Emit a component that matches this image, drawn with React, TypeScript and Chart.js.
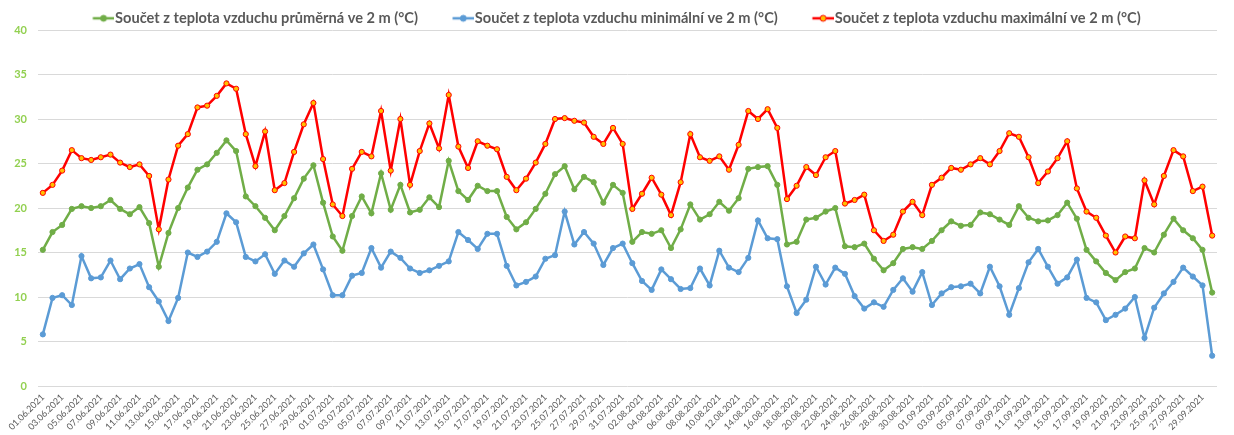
import React, { useEffect, useRef } from "react";
import { Chart, registerables } from "chart.js";

Chart.register(...registerables);

const dates = [
  "01.06.2021","02.06.2021","03.06.2021","04.06.2021","05.06.2021","06.06.2021","07.06.2021","08.06.2021","09.06.2021","10.06.2021",
  "11.06.2021","12.06.2021","13.06.2021","14.06.2021","15.06.2021","16.06.2021","17.06.2021","18.06.2021","19.06.2021","20.06.2021",
  "21.06.2021","22.06.2021","23.06.2021","24.06.2021","25.06.2021","26.06.2021","27.06.2021","28.06.2021","29.06.2021","30.06.2021",
  "01.07.2021","02.07.2021","03.07.2021","04.07.2021","05.07.2021","06.07.2021","07.07.2021","08.07.2021","09.07.2021","10.07.2021",
  "11.07.2021","12.07.2021","13.07.2021","14.07.2021","15.07.2021","16.07.2021","17.07.2021","18.07.2021","19.07.2021","20.07.2021",
  "21.07.2021","22.07.2021","23.07.2021","24.07.2021","25.07.2021","26.07.2021","27.07.2021","28.07.2021","29.07.2021","30.07.2021",
  "31.07.2021","01.08.2021","02.08.2021","03.08.2021","04.08.2021","05.08.2021","06.08.2021","07.08.2021","08.08.2021","09.08.2021",
  "10.08.2021","11.08.2021","12.08.2021","13.08.2021","14.08.2021","15.08.2021","16.08.2021","17.08.2021","18.08.2021","19.08.2021",
  "20.08.2021","21.08.2021","22.08.2021","23.08.2021","24.08.2021","25.08.2021","26.08.2021","27.08.2021","28.08.2021","29.08.2021",
  "30.08.2021","31.08.2021","01.09.2021","02.09.2021","03.09.2021","04.09.2021","05.09.2021","06.09.2021","07.09.2021","08.09.2021",
  "09.09.2021","10.09.2021","11.09.2021","12.09.2021","13.09.2021","14.09.2021","15.09.2021","16.09.2021","17.09.2021","18.09.2021",
  "19.09.2021","20.09.2021","21.09.2021","22.09.2021","23.09.2021","24.09.2021","25.09.2021","26.09.2021","27.09.2021","28.09.2021",
  "29.09.2021","30.09.2021"
];

const avgTemp = [
  15.3,17.3,18.1,19.9,20.2,20.0,20.2,20.9,19.9,19.3,
  20.1,18.3,13.4,17.2,20.0,22.3,24.3,24.9,26.2,27.6,
  26.4,21.3,20.2,18.9,17.5,19.1,21.1,23.3,24.8,20.6,
  16.8,15.2,19.1,21.3,19.4,23.9,19.8,22.6,19.5,19.8,
  21.2,20.1,25.3,21.9,20.9,22.5,21.9,21.9,19.0,17.6,
  18.4,19.9,21.6,23.8,24.7,22.1,23.5,22.9,20.6,22.6,
  21.7,16.2,17.3,17.1,17.5,15.5,17.6,20.4,18.7,19.3,
  20.7,19.7,21.1,24.4,24.6,24.7,22.6,15.9,16.2,18.7,
  18.9,19.6,20.0,15.7,15.6,16.0,14.3,13.0,13.8,15.4,
  15.6,15.4,16.3,17.5,18.5,18.0,18.1,19.5,19.3,18.7,
  18.1,20.2,18.9,18.5,18.6,19.2,20.6,18.8,15.3,14.0,
  12.7,11.9,12.8,13.2,15.5,15.0,17.0,18.8,17.5,16.6,
  15.3,10.5
];

const minTemp = [
  5.8,9.9,10.2,9.1,14.6,12.1,12.2,14.1,12.0,13.2,
  13.7,11.1,9.5,7.3,9.9,15.0,14.5,15.1,16.2,19.4,
  18.4,14.5,14.0,14.8,12.6,14.1,13.4,14.9,15.9,13.1,
  10.2,10.2,12.4,12.7,15.5,13.3,15.1,14.4,13.2,12.7,
  13.0,13.5,14.0,17.3,16.4,15.4,17.1,17.1,13.5,11.3,
  11.7,12.3,14.3,14.7,19.6,15.9,17.3,16.0,13.6,15.5,
  16.0,13.8,11.8,10.8,13.1,12.0,10.9,11.0,13.2,11.3,
  15.2,13.3,12.8,14.4,18.6,16.6,16.5,11.2,8.2,9.7,
  13.4,11.4,13.3,12.6,10.1,8.7,9.4,8.9,10.8,12.1,
  10.6,12.8,9.1,10.4,11.1,11.2,11.5,10.4,13.4,11.2,
  8.0,11.0,13.9,15.4,13.4,11.5,12.2,14.2,9.9,9.4,
  7.4,8.0,8.7,10.0,5.4,8.8,10.4,11.7,13.3,12.3,
  11.3,3.4
];

const maxTemp = [
  21.7,22.6,24.2,26.5,25.6,25.4,25.7,26.0,25.1,24.6,
  24.9,23.6,17.6,23.2,27.0,28.3,31.3,31.5,32.6,34.0,
  33.4,28.3,24.7,28.6,22.0,22.8,26.3,29.4,31.8,25.5,
  20.4,19.1,24.4,26.3,25.8,30.9,24.2,30.0,22.6,26.4,
  29.5,26.7,32.7,26.9,24.5,27.5,27.0,26.6,23.5,22.0,
  23.3,25.1,27.2,30.0,30.1,29.8,29.6,28.0,27.2,29.0,
  27.2,19.9,21.6,23.4,21.5,19.2,22.9,28.3,25.7,25.3,
  25.8,24.3,27.1,30.9,30.0,31.1,29.0,21.0,22.5,24.6,
  23.7,25.7,26.4,20.5,20.9,21.5,17.5,16.3,17.0,19.6,
  20.7,19.2,22.6,23.4,24.5,24.3,24.9,25.6,24.9,26.4,
  28.4,28.0,25.7,22.8,24.1,25.6,27.5,22.2,19.6,18.9,
  16.9,15.0,16.8,16.6,23.1,20.4,23.6,26.5,25.8,21.9,
  22.4,16.9
];

const seriesNames = [
  "Součet z teplota vzduchu průměrná ve 2 m (°C)",
  "Součet z teplota vzduchu minimální ve 2 m (°C)",
  "Součet z teplota vzduchu maximální ve 2 m (°C)"
];

const yMin = 0;
const yMax = 40;
const yStep = 5;

const GREEN = "#70AD47";
const BLUE = "#5B9BD5";
const RED = "#FF0000";
const YELLOW = "#FFC000";
const TEXT = "#595959";
const TICK_GREEN = "#92D050";
const GRID = "#D9D9D9";

const LEGEND_FONT = 14.6;
const LEGEND_EXTRA = 20;
const LEGEND_BOX = LEGEND_EXTRA + 15;

function legendImage(line: string, fill: string, border: string) {
  const half = LEGEND_BOX + LEGEND_FONT / 2 - 1 - LEGEND_BOX / 2;
  const w = Math.round(half * 2);
  const h = 12;
  const c = document.createElement("canvas");
  c.width = w;
  c.height = h;
  const ctx = c.getContext("2d")!;
  const x0 = w / 2 - LEGEND_BOX / 2 + LEGEND_EXTRA;
  const x1 = w;
  ctx.strokeStyle = line;
  ctx.lineWidth = 2.5;
  ctx.beginPath();
  ctx.moveTo(x0, h / 2);
  ctx.lineTo(x1, h / 2);
  ctx.stroke();
  ctx.beginPath();
  ctx.arc((x0 + x1) / 2, h / 2, 3, 0, Math.PI * 2);
  ctx.fillStyle = fill;
  ctx.fill();
  ctx.lineWidth = 1;
  ctx.strokeStyle = border;
  ctx.stroke();
  return c;
}

export default function App() {
  const ref = useRef<HTMLCanvasElement | null>(null);

  useEffect(() => {
    document.body.style.margin = "0";
    const canvas = ref.current;
    if (!canvas) return;
    const images = [
      legendImage(GREEN, GREEN, GREEN),
      legendImage(BLUE, BLUE, BLUE),
      legendImage(RED, YELLOW, RED)
    ];
    const chart = new Chart(canvas, {
      type: "line",
      data: {
        labels: dates,
        datasets: [
          {
            label: seriesNames[0],
            data: avgTemp,
            borderColor: GREEN,
            backgroundColor: GREEN,
            borderWidth: 2.5,
            pointRadius: 2.6,
            pointBackgroundColor: GREEN,
            pointBorderColor: GREEN,
            pointBorderWidth: 1,
            tension: 0
          },
          {
            label: seriesNames[1],
            data: minTemp,
            borderColor: BLUE,
            backgroundColor: BLUE,
            borderWidth: 2.5,
            pointRadius: 2.6,
            pointBackgroundColor: BLUE,
            pointBorderColor: BLUE,
            pointBorderWidth: 1,
            tension: 0
          },
          {
            label: seriesNames[2],
            data: maxTemp,
            borderColor: RED,
            backgroundColor: YELLOW,
            borderWidth: 2.5,
            pointRadius: 2.6,
            pointBackgroundColor: YELLOW,
            pointBorderColor: RED,
            pointBorderWidth: 1,
            tension: 0
          }
        ]
      },
      options: {
        animation: false,
        responsive: true,
        maintainAspectRatio: false,
        layout: { padding: { top: 0, left: 0, right: 17, bottom: 0 } },
        plugins: {
          tooltip: { enabled: false },
          legend: {
            display: true,
            position: "top",
            maxHeight: 30,
            labels: {
              usePointStyle: true,
              pointStyleWidth: LEGEND_BOX,
              padding: 11,
              color: TEXT,
              font: { family: "Lato", size: LEGEND_FONT, weight: "bold" },
              generateLabels: (ch: any) => {
                const items = Chart.defaults.plugins.legend.labels.generateLabels(ch);
                return items.map((it: any, i: number) => ({
                  ...it,
                  text: it.text + " ",
                  pointStyle: images[i],
                  fontColor: TEXT
                }));
              }
            }
          }
        },
        scales: {
          x: {
            offset: true,
            grid: { display: false, drawTicks: false, offset: true },
            border: { display: false },
            ticks: {
              autoSkip: false,
              maxRotation: 45,
              minRotation: 45,
              padding: 6,
              color: TEXT,
              font: { family: "Lato", size: 9 },
              callback: (_v: any, idx: number) => (idx % 2 === 0 ? dates[idx] : "")
            },
            afterFit: (scale: any) => {
              scale.height = 49;
            }
          },
          y: {
            min: yMin,
            max: yMax,
            grid: { color: GRID, lineWidth: 1, drawTicks: false },
            border: { display: false },
            ticks: {
              stepSize: yStep,
              padding: 11,
              color: TICK_GREEN,
              font: { family: "Lato", size: 11, weight: "bold" }
            },
            afterFit: (scale: any) => {
              scale.width = 38;
            }
          }
        }
      }
    });
    return () => chart.destroy();
  }, []);

  return (
    <div style={{ position: "relative", width: "1234px", height: "435px" }}>
      <canvas ref={ref} />
    </div>
  );
}
